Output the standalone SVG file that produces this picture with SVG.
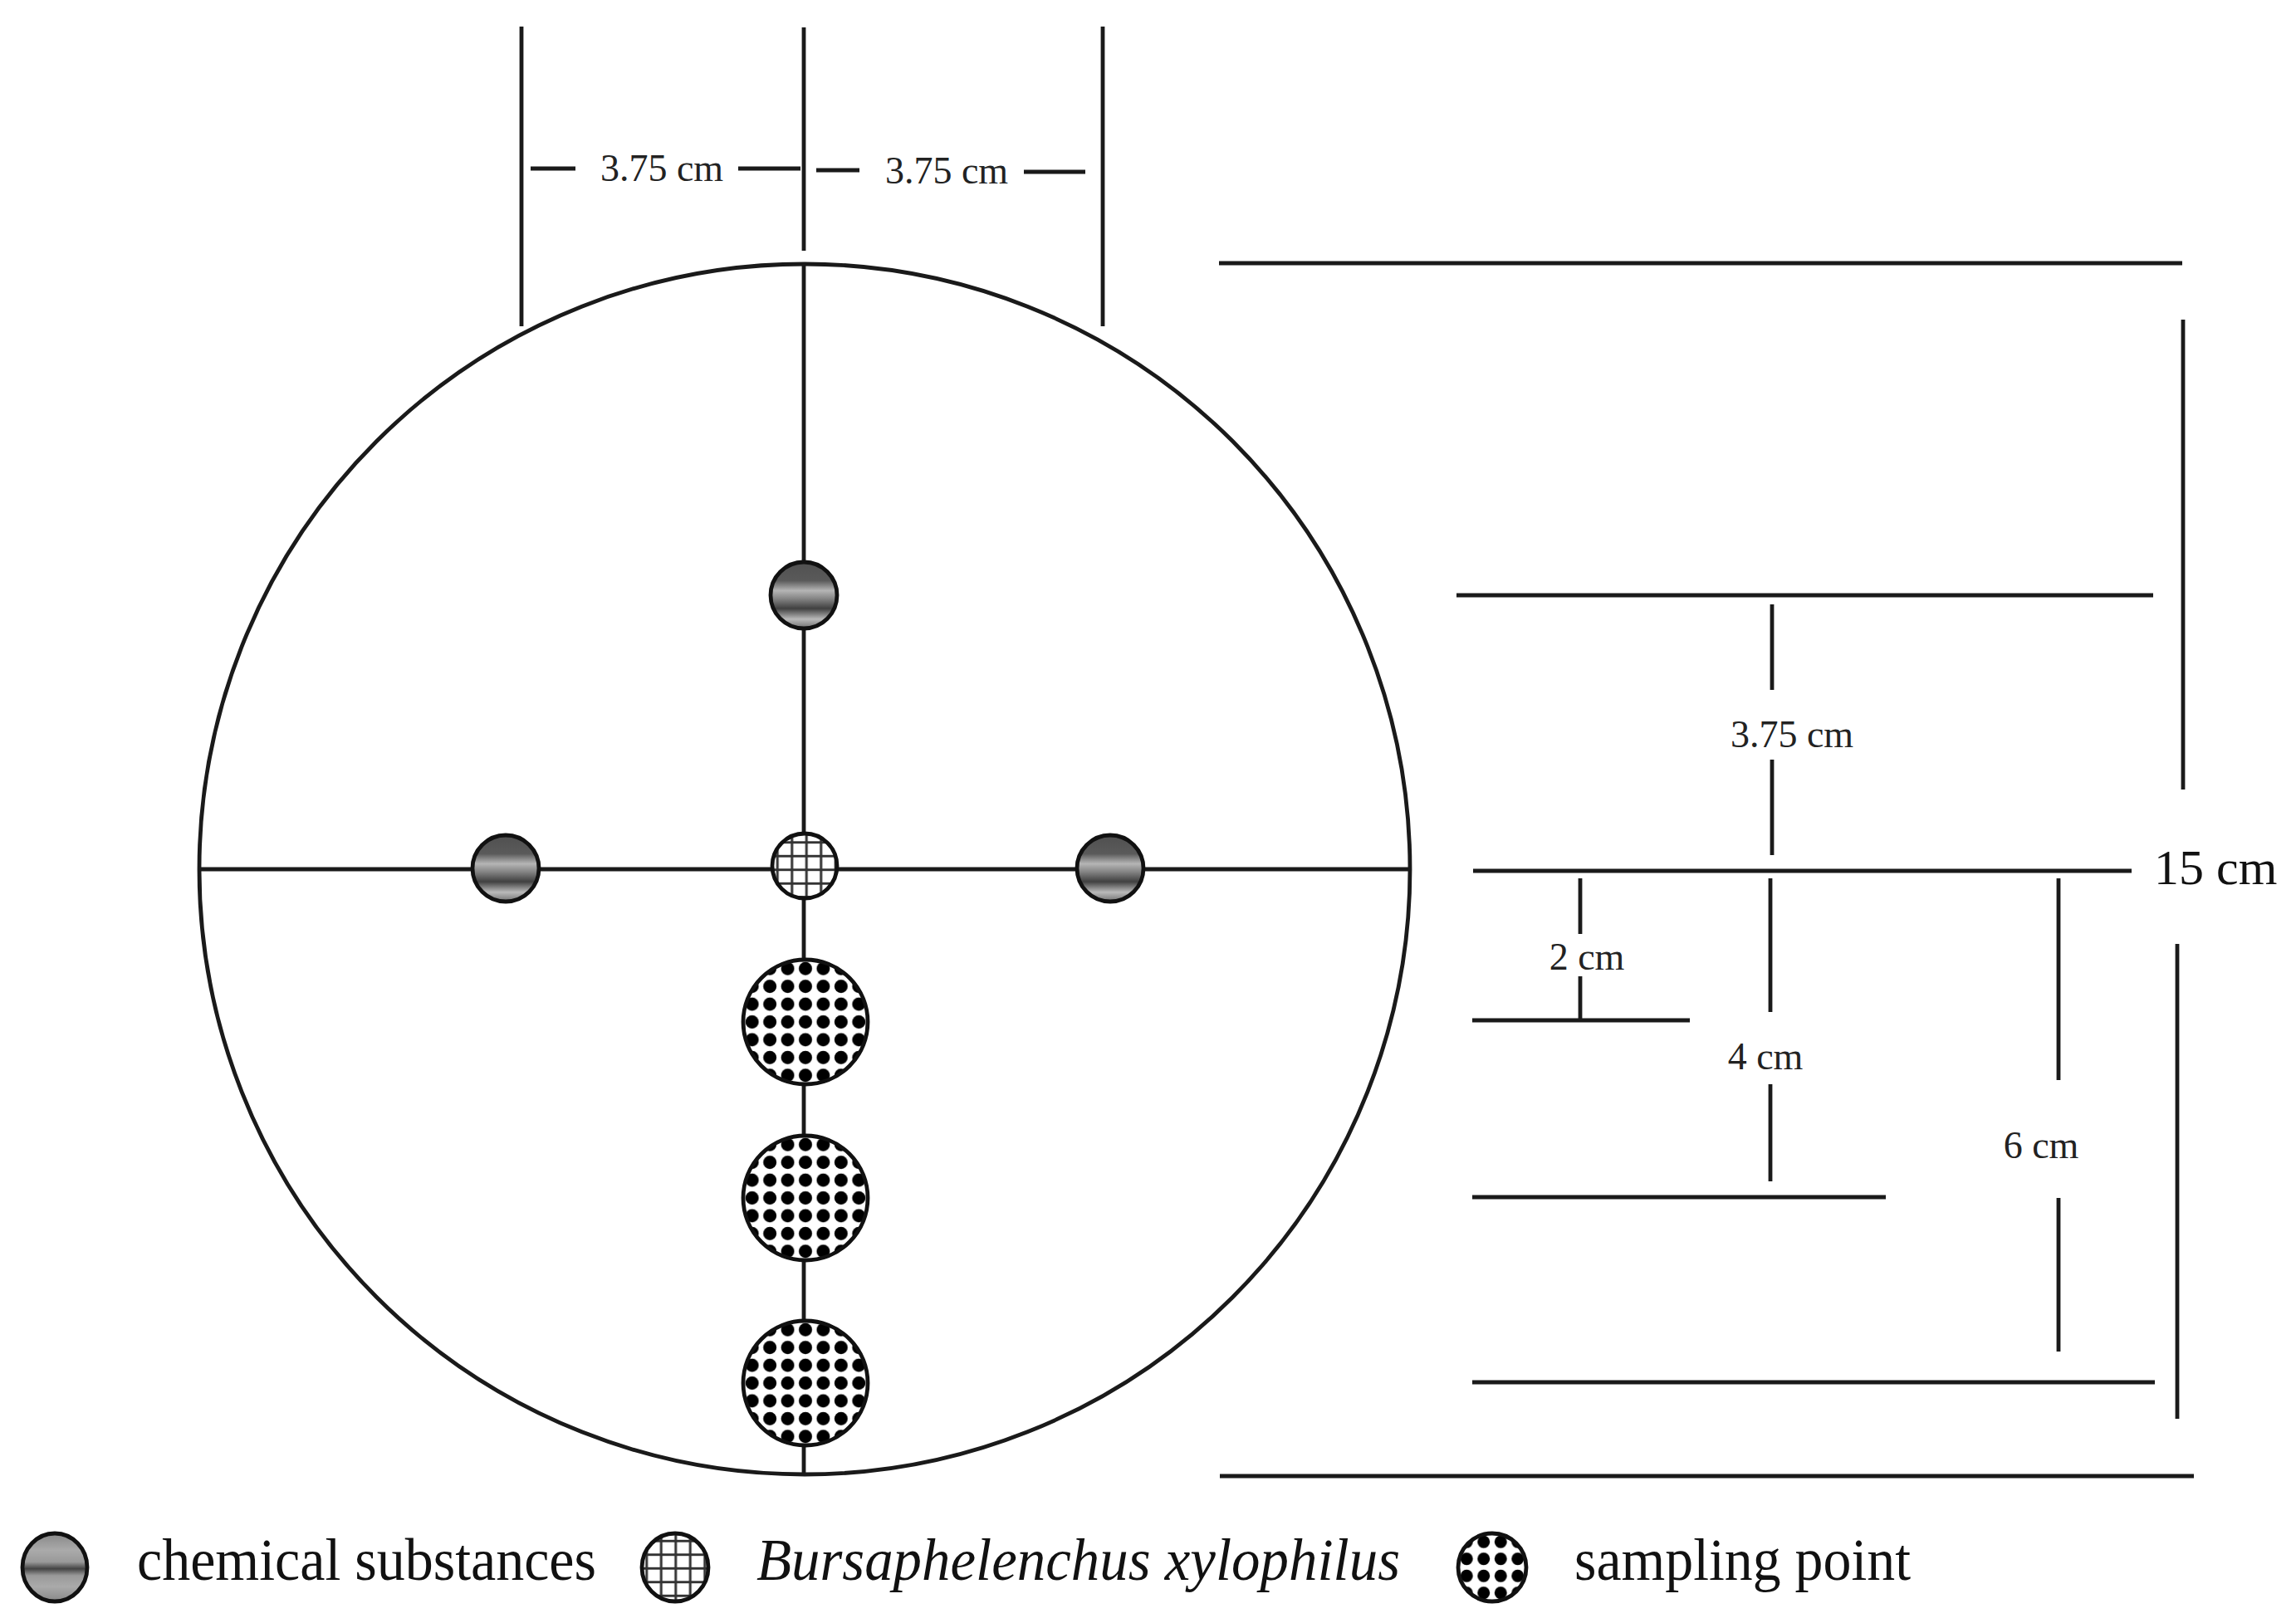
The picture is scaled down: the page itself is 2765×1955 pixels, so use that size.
<svg xmlns="http://www.w3.org/2000/svg" width="2765" height="1955" viewBox="0 0 2765 1955">
<style>
.ln{stroke:#1a1a1a;stroke-width:4.8;fill:none;stroke-linecap:butt}
.rim{stroke:#111;stroke-width:4.8}
.dim{font-family:"Liberation Serif","Times New Roman",serif;font-size:46px;fill:#222;text-anchor:middle}
.leg{font-family:"Liberation Serif","Times New Roman",serif;font-size:72px;fill:#111}
</style>
<defs>
<linearGradient id="chem" x1="0" y1="0" x2="0" y2="1">
<stop offset="0" stop-color="#505050"/>
<stop offset="0.28" stop-color="#5a5a5a"/>
<stop offset="0.43" stop-color="#b5b5b5"/>
<stop offset="0.55" stop-color="#858585"/>
<stop offset="0.7" stop-color="#404040"/>
<stop offset="0.86" stop-color="#bababa"/>
<stop offset="1" stop-color="#707070"/>
</linearGradient>
<linearGradient id="chemLeg" x1="0" y1="0" x2="0" y2="1">
<stop offset="0" stop-color="#888"/>
<stop offset="0.25" stop-color="#aaa"/>
<stop offset="0.42" stop-color="#999"/>
<stop offset="0.52" stop-color="#444"/>
<stop offset="0.62" stop-color="#999"/>
<stop offset="0.78" stop-color="#aaa"/>
<stop offset="1" stop-color="#888"/>
</linearGradient>
<pattern id="grid" patternUnits="userSpaceOnUse" x="0" y="0" width="17.5" height="16.5">
<rect width="17.5" height="16.5" fill="#fff"/>
<path d="M8.75 0V16.5M0 8.25H17.5" stroke="#333" stroke-width="3"/>
</pattern>
<pattern id="dots" patternUnits="objectBoundingBox" x="0" y="0" width="0.142857" height="0.142857">
<rect width="21.43" height="21.43" fill="#fff"/>
<circle cx="10.7" cy="10.7" r="8" fill="#000"/>
</pattern>
<pattern id="dotsLeg" patternUnits="objectBoundingBox" x="0" y="0" width="0.25" height="0.25">
<rect width="20.5" height="20.5" fill="#fff"/>
<circle cx="10.25" cy="10.25" r="7.5" fill="#000"/>
</pattern>
</defs>
<rect width="2765" height="1955" fill="#fff"/>

<g id="connectors">
<line class="ln" x1="628" y1="32" x2="628" y2="393"/>
<line class="ln" x1="968" y1="33" x2="968" y2="302"/>
<line class="ln" x1="1328" y1="32" x2="1328" y2="393"/>
<line class="ln" x1="639" y1="203" x2="693" y2="203"/>
<line class="ln" x1="889" y1="203" x2="964" y2="203"/>
<line class="ln" x1="983" y1="205" x2="1035" y2="205"/>
<line class="ln" x1="1233" y1="207" x2="1307" y2="207"/>
<circle class="ln" cx="969" cy="1047" r="729"/>
<line class="ln" x1="968" y1="318" x2="968" y2="1776"/>
<line class="ln" x1="242" y1="1047" x2="1697" y2="1047"/>
<line class="ln" x1="1468" y1="317" x2="2628" y2="317"/>
<line class="ln" x1="2629" y1="385" x2="2629" y2="951"/>
<line class="ln" x1="2622" y1="1137" x2="2622" y2="1709"/>
<line class="ln" x1="1754" y1="717" x2="2593" y2="717"/>
<line class="ln" x1="2134" y1="728" x2="2134" y2="831"/>
<line class="ln" x1="2134" y1="915" x2="2134" y2="1030"/>
<line class="ln" x1="1774" y1="1049" x2="2567" y2="1049"/>
<line class="ln" x1="1903" y1="1058" x2="1903" y2="1125"/>
<line class="ln" x1="1903" y1="1176" x2="1903" y2="1228"/>
<line class="ln" x1="1773" y1="1229" x2="2035" y2="1229"/>
<line class="ln" x1="2132" y1="1058" x2="2132" y2="1219"/>
<line class="ln" x1="2132" y1="1306" x2="2132" y2="1423"/>
<line class="ln" x1="1773" y1="1442" x2="2271" y2="1442"/>
<line class="ln" x1="2479" y1="1058" x2="2479" y2="1301"/>
<line class="ln" x1="2479" y1="1443" x2="2479" y2="1628"/>
<line class="ln" x1="1773" y1="1665" x2="2595" y2="1665"/>
<line class="ln" x1="1469" y1="1778" x2="2642" y2="1778"/>
</g>

<g id="labels">
<text class="dim" x="797" y="218">3.75 cm</text>
<text class="dim" x="1140" y="221">3.75 cm</text>
<text class="dim" x="2158" y="900">3.75 cm</text>
<text class="dim" x="1911" y="1168">2 cm</text>
<text class="dim" x="2126" y="1288">4 cm</text>
<text class="dim" x="2458" y="1395">6 cm</text>
<text x="2594" y="1065" style="font-family:'Liberation Serif','Times New Roman',serif;font-size:60px;fill:#111">15 cm</text>
</g>

<g id="chem-top"><circle class="rim" cx="968" cy="717" r="40" fill="url(#chem)"/></g>
<g id="chem-left"><circle class="rim" cx="609" cy="1046" r="40" fill="url(#chem)"/></g>
<g id="chem-right"><circle class="rim" cx="1337" cy="1046" r="40" fill="url(#chem)"/></g>
<g id="bx-center"><circle class="rim" cx="969" cy="1043" r="39" fill="url(#grid)"/></g>
<g id="sample-1"><circle class="rim" cx="970" cy="1231" r="75" fill="url(#dots)"/></g>
<g id="sample-2"><circle class="rim" cx="970" cy="1443" r="75" fill="url(#dots)"/></g>
<g id="sample-3"><circle class="rim" cx="970" cy="1666" r="75" fill="url(#dots)"/></g>

<g id="legend">
<g id="legend-chem">
<ellipse class="rim" cx="66" cy="1888" rx="39" ry="41" fill="url(#chemLeg)"/>
<text class="leg" x="165" y="1903" textLength="553" lengthAdjust="spacingAndGlyphs">chemical substances</text>
</g>
<g id="legend-bx">
<ellipse class="rim" cx="813" cy="1888" rx="40" ry="41" fill="url(#grid)"/>
<text class="leg" x="911" y="1903" font-style="italic" textLength="775" lengthAdjust="spacingAndGlyphs">Bursaphelenchus xylophilus</text>
</g>
<g id="legend-sampling">
<ellipse class="rim" cx="1797" cy="1888" rx="41" ry="41" fill="url(#dotsLeg)"/>
<text class="leg" x="1896" y="1903" textLength="405" lengthAdjust="spacingAndGlyphs">sampling point</text>
</g>
</g>
</svg>
